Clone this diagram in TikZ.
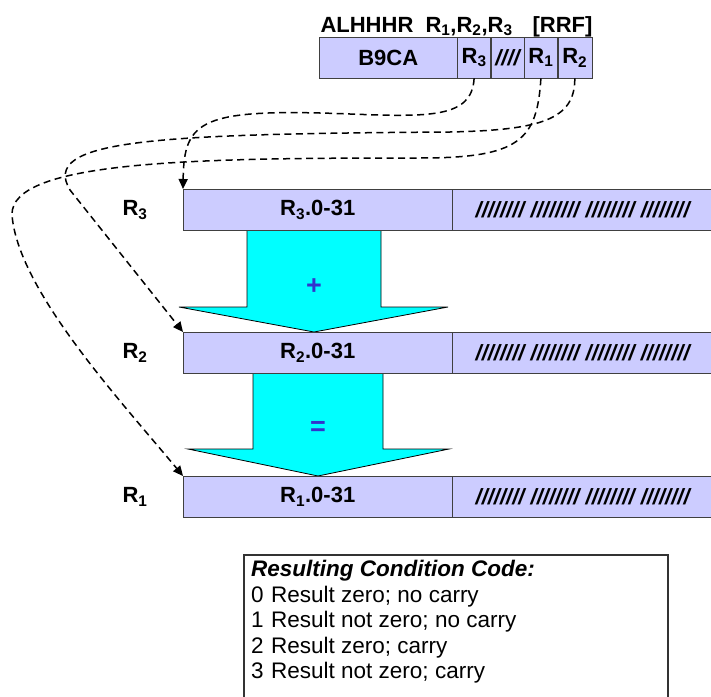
\documentclass[tikz,border=0pt]{standalone}
\usepackage{fontspec}
\setmainfont{Liberation Sans}
\usetikzlibrary{arrows.meta,positioning}
\definecolor{lila}{HTML}{CCCCFF}
\definecolor{cian}{HTML}{00FFFF}
\definecolor{kek}{HTML}{3333CC}
\tikzset{
  mezo/.style={draw=black!75,fill=lila,inner sep=0pt,minimum height=41pt,
               font=\fontsize{22}{24}\selectfont\bfseries},
  reg/.style={mezo,anchor=north west,minimum width=269pt},
  ures/.style={mezo,minimum width=260pt,font=\fontsize{22}{24}\selectfont\bfseries\itshape},
  cimke/.style={font=\fontsize{22}{24}\selectfont\bfseries},
  blokk/.style={draw=black,fill=cian,line width=0.8pt},
  jel/.style={font=\fontsize{27}{28}\selectfont\bfseries,text=kek},
  szagg/.style={line width=1.5pt,dash pattern=on 7pt off 4.5pt,-{Triangle[length=10pt,width=9pt]}},
}

\begin{document}
\begin{tikzpicture}[x=1pt,y=-1pt]
  \useasboundingbox (0,0) rectangle (711,696);
  % instruction format
  \node[cimke,anchor=base west] (op) at (317,32) {ALHHHR};
  \node[cimke,anchor=base west] (ops) at (422,32) {R\textsubscript{1},R\textsubscript{2},R\textsubscript{3}};
  \node[cimke,anchor=base west] (fmt) at (529,32) {[RRF]};
  \node[mezo,anchor=north west,minimum width=138pt] (b9ca) at (319,37) {B9CA};
  \node[mezo,minimum width=33pt,right=0pt of b9ca] (fR3) {R\textsubscript{3}};
  \node[mezo,minimum width=33pt,right=0pt of fR3,font=\fontsize{22}{24}\selectfont\bfseries\itshape] (fx) {////};
  \node[mezo,minimum width=33pt,right=0pt of fx] (fR1) {R\textsubscript{1}};
  \node[mezo,minimum width=34pt,right=0pt of fR1] (fR2) {R\textsubscript{2}};

  % block arrows between the registers
  \draw[blokk] (247,230) -- (247,307) -- (179,307) -- (314,332) -- (448,307) -- (381,307) -- (381,230);
  \draw[blokk] (253,373) -- (253,449) -- (188,449) -- (318,476) -- (449,449) -- (383,449) -- (383,373);
  \node[jel] (plus) at (314,287) {+};
  \node[jel] (egy) at (318,428) {=};

  % registers
  \node[reg] (bR3) at (183,189) {R\textsubscript{3}.0-31};
  \node[ures,right=0pt of bR3] (hR3) {//////// //////// //////// ////////};
  \node[reg] (bR2) at (183,332) {R\textsubscript{2}.0-31};
  \node[ures,right=0pt of bR2] (hR2) {//////// //////// //////// ////////};
  \node[reg] (bR1) at (183,476) {R\textsubscript{1}.0-31};
  \node[ures,right=0pt of bR1] (hR1) {//////// //////// //////// ////////};
  \node[cimke] (lR3) at (135,210) {R\textsubscript{3}};
  \node[cimke] (lR2) at (135,353) {R\textsubscript{2}};
  \node[cimke] (lR1) at (135,497) {R\textsubscript{1}};

  % operand fields -> registers
  \draw[szagg] (fR3.south) .. controls (472,118) and (430,117) .. (350,114)
    .. controls (200,108) and (184,120) .. (bR3.north west);
  \draw[szagg] (fR2.south) .. controls (575,120) and (540,130) .. (450,132)
    .. controls (150,134) and (40,140) .. (70,190) -- (bR2.north west);
  \draw[szagg] (fR1.south) .. controls (537,140) and (520,158) .. (420,158)
    .. controls (200,158) and (10,160) .. (12,215)
    .. controls (18,290) and (120,400) .. (bR1.north west);

  % condition code box
  \draw[black!80,line width=1.2pt] (244,555) rectangle (668,705);
  \node[anchor=north west,inner sep=0pt,align=left,font=\fontsize{22.5}{25.5}\selectfont] (kod) at (251,560)
    {{\bfseries\itshape Resulting Condition Code:}\\
     \makebox[20pt][l]{0}Result zero; no carry\\
     \makebox[20pt][l]{1}Result not zero; no carry\\
     \makebox[20pt][l]{2}Result zero; carry\\
     \makebox[20pt][l]{3}Result not zero; carry};
\end{tikzpicture}
\end{document}
